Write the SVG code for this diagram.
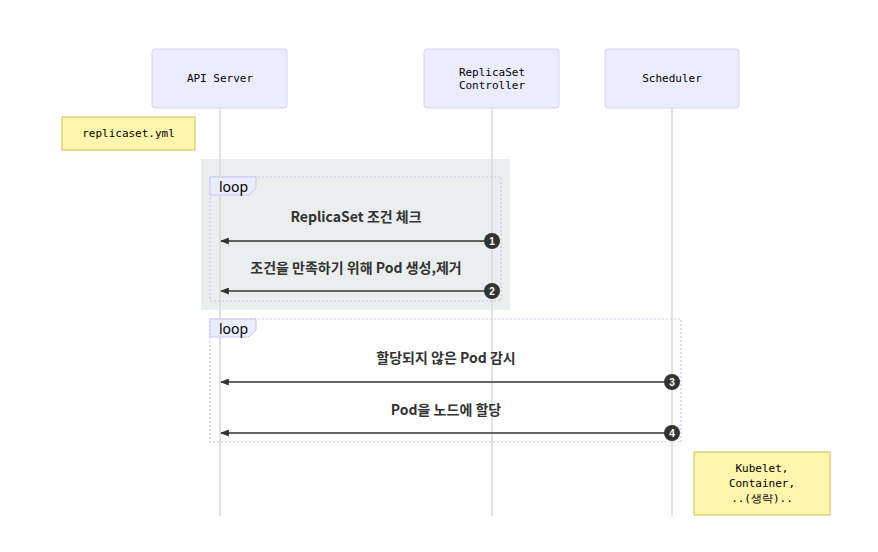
<svg xmlns="http://www.w3.org/2000/svg" width="878" height="552" viewBox="0 0 878 552">
<style>
.actor{fill:#ECECFF;stroke:#d6d2f6;stroke-width:1}
.atext{font-family:"DejaVu Sans Mono","Liberation Mono",monospace;font-size:11px;fill:#000;text-anchor:middle}
.life{stroke:#d9d9d9;stroke-width:1.5}
.note{fill:#fff5ad;stroke:#c9c04f;stroke-width:1}
.ntext{font-family:"DejaVu Sans Mono","Liberation Mono",monospace;font-size:11px;fill:#000;text-anchor:middle}
.loopbox{fill:none;stroke:#c9c3f2;stroke-width:1.2;stroke-dasharray:2 2}
.looplab{fill:#ECECFF;stroke:#c9c3f2;stroke-width:1}
.ltext{font-family:"Noto Sans","Liberation Sans",sans-serif;font-size:14px;fill:#000}
.msg{stroke:#333;stroke-width:1.5;fill:none}
.mtext{font-family:"Noto Sans CJK KR","Noto Sans",sans-serif;font-size:14px;font-weight:bold;fill:#333;text-anchor:middle}
.seq{fill:#333}
.seqt{font-family:"Liberation Sans",sans-serif;font-size:10px;font-weight:bold;fill:#fff;text-anchor:middle}
</style>
<defs>
<marker id="arr" viewBox="0 0 10 8" refX="9" refY="4" markerWidth="10" markerHeight="7" markerUnits="userSpaceOnUse" orient="auto">
<path d="M0,0 L10,4 L0,8 z" fill="#333"/>
</marker>
</defs>
<rect width="878" height="552" fill="#fff"/>
<rect x="201" y="159" width="309" height="151" fill="#ebeeef"/>
<g id="lifelines">
<line class="life" x1="220" y1="108" x2="220" y2="516"/>
<line class="life" x1="492" y1="108" x2="492" y2="516"/>
<line class="life" x1="672" y1="108" x2="672" y2="516"/>
</g>
<g id="api-server">
<rect class="actor" x="152" y="49" width="135" height="59" rx="3"/>
<text class="atext" x="220" y="82">API Server</text>
</g>
<g id="replicaset-controller">
<rect class="actor" x="424" y="49" width="135" height="59" rx="3"/>
<text class="atext" x="492" y="76">ReplicaSet</text>
<text class="atext" x="492" y="89">Controller</text>
</g>
<g id="scheduler">
<rect class="actor" x="605" y="49" width="134" height="59" rx="3"/>
<text class="atext" x="672" y="82">Scheduler</text>
</g>
<g id="note-replicaset">
<rect class="note" x="62" y="117" width="133" height="33"/>
<text class="ntext" x="128.5" y="137">replicaset.yml</text>
</g>
<g id="loop1">
<rect class="loopbox" x="210" y="177" width="291" height="124"/>
<path class="looplab" d="M210,177 H256 V188 L249,195 H210 Z"/>
<text class="ltext" x="219" y="192">loop</text>
</g>
<g id="loop2">
<rect class="loopbox" x="210" y="319" width="471" height="123"/>
<path class="looplab" d="M210,319 H256 V330 L249,337 H210 Z"/>
<text class="ltext" x="219" y="334">loop</text>
</g>
<g id="connectors">
<line class="msg" x1="492" y1="241" x2="221" y2="241" marker-end="url(#arr)"/>
<text class="mtext" x="356" y="222">ReplicaSet 조건 체크</text>
<line class="msg" x1="492" y1="291" x2="221" y2="291" marker-end="url(#arr)"/>
<text class="mtext" x="356" y="273">조건을 만족하기 위해 Pod 생성,제거</text>
<line class="msg" x1="672" y1="382" x2="221" y2="382" marker-end="url(#arr)"/>
<text class="mtext" x="446" y="363">할당되지 않은 Pod 감시</text>
<line class="msg" x1="672" y1="433" x2="221" y2="433" marker-end="url(#arr)"/>
<text class="mtext" x="446" y="415">Pod을 노드에 할당</text>
<circle class="seq" cx="492" cy="241" r="8"/>
<text class="seqt" x="492" y="245">1</text>
<circle class="seq" cx="492" cy="291" r="8"/>
<text class="seqt" x="492" y="295">2</text>
<circle class="seq" cx="672" cy="382" r="8"/>
<text class="seqt" x="672" y="386">3</text>
<circle class="seq" cx="672" cy="433" r="8"/>
<text class="seqt" x="672" y="437">4</text>
</g>
<g id="note-kubelet">
<rect class="note" x="694" y="452" width="136" height="63"/>
<text class="ntext" x="762" y="472">Kubelet,</text>
<text class="ntext" x="762" y="487">Container,</text>
<text class="ntext" x="762" y="502" font-family="'DejaVu Sans Mono','Noto Sans CJK KR',monospace">..(생략)..</text>
</g>
</svg>
